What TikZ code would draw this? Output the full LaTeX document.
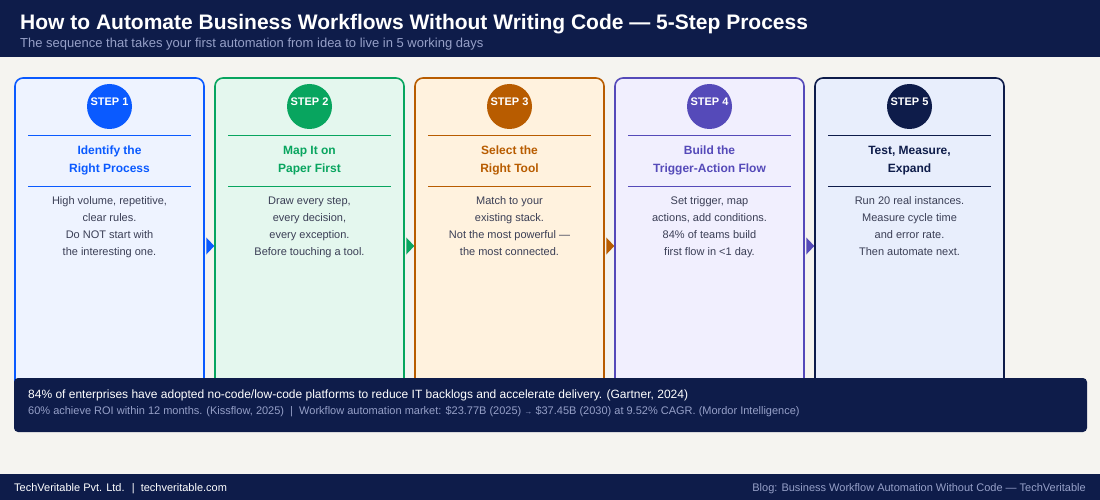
\documentclass[tikz,border=0pt]{standalone}
\usepackage{fontspec}
\setmainfont{Liberation Sans}
\usepackage{xcolor}
\usetikzlibrary{math, calc, positioning}
\definecolor{navy}{RGB}{14,28,74}
\definecolor{paper}{RGB}{245,244,240}
\definecolor{subgray}{RGB}{150,160,200}
\definecolor{bodygray}{RGB}{58,62,85}
\definecolor{sblue}{RGB}{10,90,255}
\definecolor{sbluebg}{RGB}{238,243,255}
\definecolor{sgreen}{RGB}{8,165,95}
\definecolor{sgreenbg}{RGB}{228,247,238}
\definecolor{sorange}{RGB}{184,92,0}
\definecolor{sorangebg}{RGB}{255,242,222}
\definecolor{spurple}{RGB}{85,74,185}
\definecolor{spurplebg}{RGB}{241,239,254}
\definecolor{snavy}{RGB}{14,28,74}
\definecolor{snavybg}{RGB}{232,238,252}

\tikzset{
  card/.style={draw=#1, fill=#1bg, line width=1.6pt, rounded corners=8pt,
    minimum width=189pt, minimum height=336pt, inner sep=0pt},
  badge/.style={circle, fill=#1, minimum size=45pt, inner sep=0pt},
  steplabel/.style={text=white, anchor=base, inner sep=0pt, font=\fontsize{11}{12}\selectfont\bfseries},
  steptitle/.style={text=#1, align=center, anchor=base, inner sep=0pt, font=\fontsize{12}{18}\selectfont\bfseries},
  stepbody/.style={text=bodygray, align=center, anchor=base, inner sep=0pt, font=\fontsize{11}{17}\selectfont},
  rule/.style={draw=#1, line width=1pt},
  plain/.style={inner sep=0pt},
}

\begin{document}
\begin{tikzpicture}[x=1pt, y=-1pt]
\tikzmath{
\W=1100; \H=500;
}
\useasboundingbox (0,0) rectangle (\W,\H);
\fill[paper] (0,0) rectangle (\W,\H);

% header
\fill[navy] (0,0) rectangle (\W,57);
\node[plain, anchor=base west, text=white, font=\fontsize{21}{24}\selectfont\bfseries] (title) at (20,30)
  {How to Automate Business Workflows Without Writing Code — 5-Step Process};
\node[plain, anchor=base west, text=subgray, font=\fontsize{13}{15}\selectfont] (subtitle) at (20,47.5)
  {The sequence that takes your first automation from idea to live in 5 working days};

% steps (multi-line nodes sit on their last baseline)
\foreach \i/\c/\ttl/\bdy in {
  1/sblue/{Identify the\\Right Process}/{High volume, repetitive,\\clear rules.\\Do NOT start with\\the interesting one.},
  2/sgreen/{Map It on\\Paper First}/{Draw every step,\\every decision,\\every exception.\\Before touching a tool.},
  3/sorange/{Select the\\Right Tool}/{Match to your\\existing stack.\\Not the most powerful —\\the most connected.},
  4/spurple/{Build the\\Trigger-Action Flow}/{Set trigger, map\\actions, add conditions.\\84\% of teams build\\first flow in <1 day.},
  5/snavy/{Test, Measure,\\Expand}/{Run 20 real instances.\\Measure cycle time\\and error rate.\\Then automate next.}}
{
  \pgfmathsetmacro\cx{109.5+200*(\i-1)}
  \node[card=\c] (card\i) at (\cx,246) {};
  \node[badge=\c] (badge\i) at (\cx,106.5) {};
  \node[steplabel] (label\i) at (\cx,106) {STEP \i};
  \draw[rule=\c] (\cx-81.5,136) -- (\cx+81.5,136);
  \node[steptitle=\c] (head\i) at (\cx,172.5) {\ttl};
  \draw[rule=\c] (\cx-81.5,186) -- (\cx+81.5,186);
  \node[stepbody] (body\i) at (\cx,255) {\bdy};
  \ifnum\i<5
    \fill[\c] ($(card\i.east)+(1.5,-8.5)$) -- ++(8,8.5) -- ++(-8,8.5) -- cycle;
  \fi
}

% stats banner
\fill[navy, rounded corners=4pt] (14,378) rectangle (1087,432);
\node[plain, anchor=base west, text=white, font=\fontsize{12}{14}\selectfont] (fact) at (28,398.5)
  {84\% of enterprises have adopted no-code/low-code platforms to reduce IT backlogs and accelerate delivery. (Gartner, 2024)};
\node[plain, anchor=base west, text=subgray, font=\fontsize{11}{12}\selectfont] (source) at (28,414.5)
  {60\% achieve ROI within 12 months. (Kissflow, 2025) \ | \ Workflow automation market: \$23.77B (2025) {\fontsize{8}{8}\selectfont →} \$37.45B (2030) at 9.52\% CAGR. (Mordor Intelligence)};

% footer
\fill[navy] (0,474) rectangle (\W,\H);
\node[plain, anchor=base west, text=white, font=\fontsize{11}{12}\selectfont] (company) at (14,491)
  {TechVeritable Pvt. Ltd. \ | \ techveritable.com};
\node[plain, anchor=base east, text=subgray, font=\fontsize{11}{12}\selectfont] (blog) at (1086,491)
  {Blog: Business Workflow Automation Without Code — TechVeritable};

\end{tikzpicture}
\end{document}
